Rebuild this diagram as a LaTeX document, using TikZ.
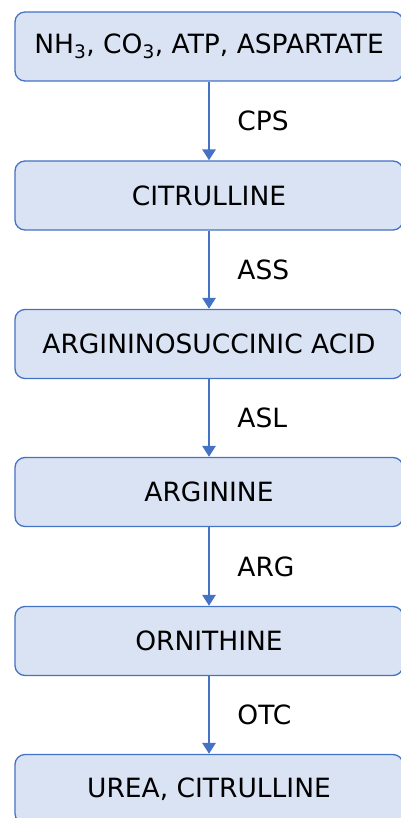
\documentclass[tikz,border=0pt]{standalone}
\usepackage{fontspec}
\setmainfont{DejaVu Sans}
\usepackage{xcolor}
\usetikzlibrary{arrows.meta}

\definecolor{boxfill}{RGB}{218,227,243}
\definecolor{boxline}{RGB}{68,114,196}

\tikzset{
    metabox/.style={draw=boxline, line width=1.3pt, fill=boxfill, rounded corners=10pt,
        minimum width=388pt, minimum height=69pt, inner sep=0pt,
        font=\fontsize{26.5}{31}\selectfont},
    enzlabel/.style={anchor=west, inner sep=0pt, xshift=27pt,
        font=\fontsize{26.5}{31}\selectfont},
    flow/.style={draw=boxline, line width=2.8pt, -{Triangle[width=13pt,length=11pt]}}
}

\begin{document}
\begin{tikzpicture}[x=1pt,y=-1pt]
    \useasboundingbox (0,0) rectangle (400,818);

    % Metabolites of the urea cycle
    \node[metabox] (nh3) at (209,46.5) {NH\textsubscript{3}, CO\textsubscript{3}, ATP, ASPARTATE};
    \node[metabox] (citr) at (209,195.5) {CITRULLINE};
    \node[metabox] (argsuc) at (209,344) {ARGININOSUCCINIC ACID};
    \node[metabox] (arg) at (209,492) {ARGININE};
    \node[metabox] (orn) at (209,641) {ORNITHINE};
    \node[metabox] (urea) at (209,789) {UREA, CITRULLINE};

    % Enzyme steps
    \draw[flow] (nh3) -- node[enzlabel] (cps) {CPS} (citr);
    \draw[flow] (citr) -- node[enzlabel] (ass) {ASS} (argsuc);
    \draw[flow] (argsuc) -- node[enzlabel] (asl) {ASL} (arg);
    \draw[flow] (arg) -- node[enzlabel] (argase) {ARG} (orn);
    \draw[flow] (orn) -- node[enzlabel] (otc) {OTC} (urea);
\end{tikzpicture}
\end{document}
